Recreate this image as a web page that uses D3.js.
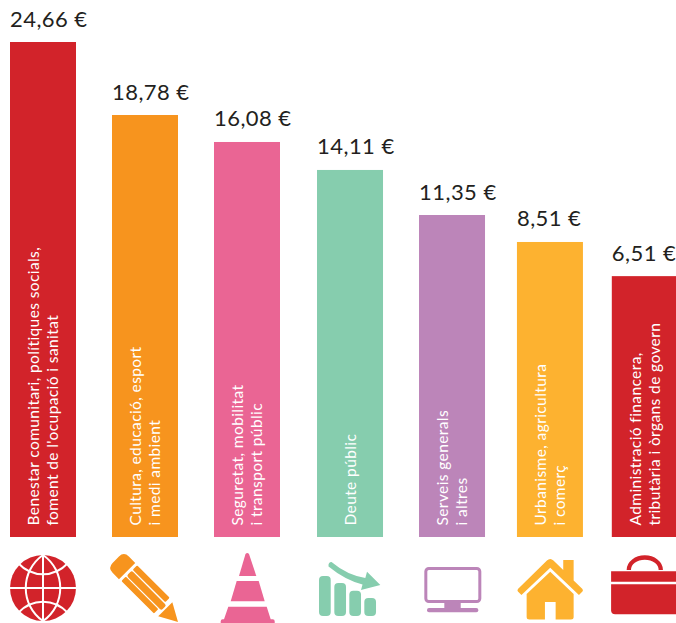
<!DOCTYPE html>
<html>
<head>
<meta charset="utf-8">
<script src="https://cdn.jsdelivr.net/npm/d3@7"></script>
<style>
	html, body { margin: 0; padding: 0; background: #fff; overflow: hidden; }
	svg { display: block; }
	text { font-family: Lato, "Open Sans", sans-serif; }
	.value { font-size: 22px; fill: #231f20; letter-spacing: .45px; }
	.name { font-size: 15.5px; fill: #fff; letter-spacing: .4px; }
</style>
</head>
<body>
<svg id="chart" width="676" height="623"></svg>
<script>
(function() {

	//DATA
	var categories = ['benestar', 'cultura', 'seguretat', 'deute', 'serveis', 'urbanisme', 'administracio'];
	var values = ['24,66', '18,78', '16,08', '14,11', '11,35', '8,51', '6,51'];
	// bars in the original are not proportional to the euros, so their drawn length is its own series (% of tallest)
	var drawnShare = [100, 85.25, 79.8, 74.15, 65.05, 59.6, 52.7];
	// bar slots are also uneven in the original, 1 = one regular step
	var slots = [0, 1, 2, 3.01, 4.01, 4.97, 5.90];
	var labels = [
		['Benestar comunitari, polítiques socials,', 'foment de l\'ocupació i sanitat'],
		['Cultura, educació, esport', 'i medi ambient'],
		['Seguretat, mobilitat', 'i transport públic'],
		['Deute públic'],
		['Serveis generals', 'i altres'],
		['Urbanisme, agricultura', 'i comerç'],
		['Administració financera,', 'tributària i òrgans de govern']
	];
	var colors = ['#d2232a', '#f7941e', '#ea6594', '#86cdae', '#bc85b9', '#fdb230', '#d2232a'];

	var margin = { top: 42, bottom: 86, left: 10 };
	var height = 623;
	var barStep = 102;
	var barWidth = 66;
	var leading = 19;

	var svg = d3.select('#chart');

	var x = d3.scaleLinear().domain([0, 1]).range([margin.left, margin.left + barStep]);
	var y = d3.scaleLinear().domain([0, 100]).range([height - margin.bottom, margin.top]);

	var rows = categories.map(function(d, i) {
		return { key: d, value: values[i], share: drawnShare[i], slot: slots[i], label: labels[i], color: colors[i] };
	});

	//BARS
	var bar = svg.selectAll('.bar')
		.data(rows)
		.enter().append('g')
		.attr('class', function(d) { return 'bar ' + d.key; })
		.attr('transform', function(d) { return 'translate(' + x(d.slot) + ',0)'; });

	bar.append('rect')
		.attr('y', function(d) { return y(d.share); })
		.attr('width', barWidth)
		.attr('height', function(d) { return y(0) - y(d.share); })
		.style('fill', function(d) { return d.color; });

	bar.append('text')
		.attr('class', 'value')
		.attr('x', 0)
		.attr('y', function(d) { return y(d.share) - 15.5; })
		.text(function(d) { return d.value + ' €'; });

	bar.selectAll('.name')
		.data(function(d) {
			return d.label.map(function(line, i) {
				return { line: line, i: i, n: d.label.length };
			});
		})
		.enter().append('text')
		.attr('class', 'name')
		.attr('transform', function(d) {
			// lines sit as a block around the middle of the bar
			var lineX = 29 + d.i * leading + (2 - d.n) * leading / 2;
			return 'translate(' + lineX + ',' + (y(0) - 11.5) + ')rotate(-90)';
		})
		.text(function(d) { return d.line; });

	//ICONS
	var icon = bar.append('g')
		.attr('class', 'icon')
		.style('fill', function(d) { return d.color; })
		.attr('transform', 'translate(0,' + y(0) + ')');

	function draw(key, fn) {
		fn(icon.filter(function(d) { return d.key === key; }));
	}

	function poly(g, d) {
		return g.append('path').attr('d', d);
	}

	function white(g, d, w) {
		return g.append('path').attr('d', d)
			.style('fill', 'none')
			.style('stroke', '#fff')
			.style('stroke-width', w);
	}

	draw('benestar', function(g) {
		g.append('circle').attr('cx', 33).attr('cy', 51).attr('r', 33);
		white(g, 'M33,18V84M0,51H66', 2);
		white(g, 'M33,18C10,34 10,68 33,84C56,68 56,34 33,18', 2);
		white(g, 'M8,26C22,41 44,41 58,26', 2);
		white(g, 'M8,76C22,61 44,61 58,76', 2);
	});

	draw('cultura', function(g) {
		var p = g.append('g').attr('transform', 'translate(66,85)rotate(-135)');
		poly(p, 'M0,0L18,-10L18,10Z');
		p.append('rect').attr('x', 23).attr('y', -11).attr('width', 46).attr('height', 6.2).attr('rx', 1);
		p.append('rect').attr('x', 20).attr('y', -3.6).attr('width', 49).attr('height', 7.2).attr('rx', 2);
		p.append('rect').attr('x', 23).attr('y', 5).attr('width', 46).attr('height', 6.2).attr('rx', 1);
		poly(p, 'M72,-11.5H81Q88,-11.5 88,-4.5V4.5Q88,11.5 81,11.5H72Z');
	});

	draw('seguretat', function(g) {
		poly(g, 'M31.5,17Q33.3,15 35,17L42.3,39H25Z');
		poly(g, 'M22.7,44H44.7L50.7,64.3H16.7Z');
		poly(g, 'M14.3,69.7H52.7L56.7,82.3H58.7Q60.7,82.3 60.7,84.3V86H6.7V84.3Q6.7,82.3 8.7,82.3H10Z');
	});

	draw('deute', function(g) {
		g.append('rect').attr('x', 2).attr('y', 39).attr('width', 11.7).attr('height', 40).attr('rx', 4);
		g.append('rect').attr('x', 17.3).attr('y', 46).attr('width', 11.7).attr('height', 33).attr('rx', 4);
		g.append('rect').attr('x', 32.3).attr('y', 53.7).attr('width', 11.7).attr('height', 25.3).attr('rx', 4);
		g.append('rect').attr('x', 47.3).attr('y', 61).attr('width', 11.7).attr('height', 18).attr('rx', 4);
		poly(g, 'M14.5,25Q30,38 48.3,41L50,34.7L63.3,48L44,53L45.5,47.5Q28,43 11.5,29.5Q11,25 14.5,25Z');
	});

	draw('serveis', function(g) {
		g.append('rect').attr('x', 6.8).attr('y', 31.5).attr('width', 54).attr('height', 33).attr('rx', 3)
			.style('fill', 'none')
			.style('stroke', function(d) { return d.color; })
			.style('stroke-width', 3);
		g.append('rect').attr('x', 25.3).attr('y', 65).attr('width', 16.4).attr('height', 6.5);
		g.append('rect').attr('x', 8).attr('y', 71).attr('width', 51.3).attr('height', 4.2).attr('rx', 2);
	});

	draw('urbanisme', function(g) {
		poly(g, 'M33.3,22Q35,22 36.5,23.5L46.3,33V23H56.7V43.5L65.5,52Q66.5,53.5 65.5,54.5L62,58L33.3,30.7L4.5,58L1,54.5Q0,53.5 1,52L30,23.5Q31.5,22 33.3,22Z');
		poly(g, 'M33.3,34.7L56.7,57V80Q56.7,82.5 54,82.5H38.7V65H28V82.5H12.5Q9.7,82.5 9.7,80V57Z');
	});

	draw('administracio', function(g) {
		poly(g, 'M-.7,34.3V44.7H66V34.3Z');
		poly(g, 'M-.7,47.3H66V77.3H3.3Q-.7,77.3 -.7,73.3Z');
		g.append('path')
			.attr('d', 'M17,33A16,12.5 0 0 1 49,33')
			.style('fill', 'none')
			.style('stroke', function(d) { return d.color; })
			.style('stroke-width', 4.3);
	});

})()
</script>
</body>
</html>
